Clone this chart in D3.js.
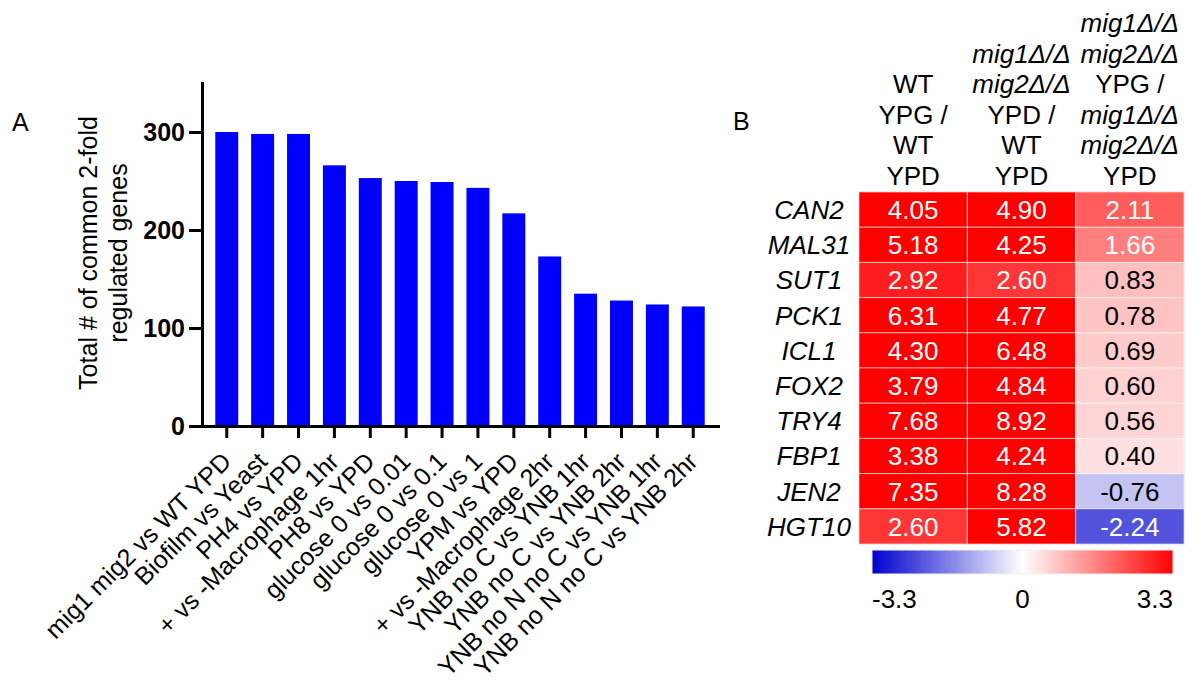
<!DOCTYPE html>
<html>
<head>
<meta charset="utf-8">
<script src="https://cdn.jsdelivr.net/npm/d3@7"></script>
<style>
  body { margin: 0; background: #fff; }
  svg { font-family: "Liberation Sans", Arial, sans-serif; }
</style>
</head>
<body>
<svg id="chart" width="1195" height="683"></svg>
<script>
// panel A data
var conditions = ["mig1 mig2 vs WT YPD", "Biofilm vs Yeast", "PH4 vs YPD", "+ vs -Macrophage 1hr",
  "PH8 vs YPD", "glucose 0 vs 0.01", "glucose 0 vs 0.1", "glucose 0 vs 1", "YPM vs YPD",
  "+ vs -Macrophage 2hr", "YNB no C vs YNB 1hr", "YNB no C vs YNB 2hr",
  "YNB no N no C vs YNB 1hr", "YNB no N no C vs YNB 2hr"];
var geneCounts = [300, 298, 298, 266, 253, 250, 249, 243, 217, 173, 135, 128, 124, 122];
var yTicks = [0, 100, 200, 300];

// panel B data
var genes = ["CAN2", "MAL31", "SUT1", "PCK1", "ICL1", "FOX2", "TRY4", "FBP1", "JEN2", "HGT10"];
var wtRatio = [4.05, 5.18, 2.92, 6.31, 4.30, 3.79, 7.68, 3.38, 7.35, 2.60];
var mutYpdRatio = [4.90, 4.25, 2.60, 4.77, 6.48, 4.84, 8.92, 4.24, 8.28, 5.82];
var mutYpgRatio = [2.11, 1.66, 0.83, 0.78, 0.69, 0.60, 0.56, 0.40, -0.76, -2.24];
var columnHeaders = [
  ["WT", "YPG /", "WT", "YPD"],
  ["mig1\u0394/\u0394", "mig2\u0394/\u0394", "YPD /", "WT", "YPD"],
  ["mig1\u0394/\u0394", "mig2\u0394/\u0394", "YPG /", "mig1\u0394/\u0394", "mig2\u0394/\u0394", "YPD"]
];
var colorbarTicks = [-3.3, 0, 3.3];

var svg = d3.select("#chart");

// ---------- panel A: bar chart ----------
var x = d3.scaleBand()
    .domain(conditions)
    .range([202, 718])
    .paddingInner(0.36)
    .paddingOuter(0.37);

var y = d3.scaleLinear()
    .domain([0, 350])
    .range([426, 83]);

svg.append("text")
    .attr("x", 12).attr("y", 131)
    .attr("font-size", 25)
    .text("A");

var gA = svg.append("g");

gA.selectAll("rect.bar")
    .data(geneCounts)
  .enter().append("rect")
    .attr("class", "bar")
    .attr("x", function(d, i) { return x(conditions[i]); })
    .attr("y", function(d) { return y(d); })
    .attr("width", x.bandwidth())
    .attr("height", function(d) { return y(0) - y(d); })
    .attr("fill", "#0000ff");

var yAxis = gA.append("g")
    .attr("transform", "translate(202,0)")
    .call(d3.axisLeft(y).tickValues(yTicks).tickSize(13).tickSizeOuter(0).tickPadding(4));
yAxis.select(".domain").attr("stroke-width", 3).attr("stroke-linecap", "square");
yAxis.selectAll(".tick line").attr("stroke-width", 3);
yAxis.selectAll(".tick text")
    .attr("font-size", 25)
    .attr("font-weight", "bold")
    .attr("fill", "#000");

var xAxis = gA.append("g")
    .attr("transform", "translate(0,426)")
    .call(d3.axisBottom(x).tickSize(12).tickSizeOuter(0));
xAxis.select(".domain").attr("stroke-width", 3).attr("stroke-linecap", "square");
xAxis.selectAll(".tick line").attr("stroke-width", 3);
xAxis.selectAll(".tick text")
    .attr("font-size", 25)
    .attr("fill", "#000")
    .attr("text-anchor", "end")
    .attr("x", 0).attr("y", 0).attr("dy", 0)
    .attr("transform", "translate(6,37) rotate(-45)");

var yLabel = gA.append("text")
    .attr("transform", "translate(97,253) rotate(-90)")
    .attr("text-anchor", "middle")
    .attr("font-size", 25);
yLabel.append("tspan").attr("x", 0).attr("dy", 0).text("Total # of common 2-fold");
yLabel.append("tspan").attr("x", 0).attr("dy", 30).text("regulated genes");

// ---------- panel B: heatmap ----------
var columns = [wtRatio, mutYpdRatio, mutYpgRatio];

var col = d3.scaleBand()
    .domain(d3.range(columns.length))
    .range([859, 1184]);

var row = d3.scaleBand()
    .domain(genes)
    .range([192, 544]);

var color = d3.scaleLinear()
    .domain([-3.3, 0, 3.3])
    .range(["#0000cd", "#ffffff", "#ff0000"])
    .interpolate(d3.interpolateRgb)
    .clamp(true);

svg.append("text")
    .attr("x", 733).attr("y", 130)
    .attr("font-size", 25)
    .text("B");

var gB = svg.append("g");

var headerLine = 30.6;
columnHeaders.forEach(function(lines, c) {
  var t = gB.append("text")
      .attr("text-anchor", "middle")
      .attr("font-size", 26);
  lines.forEach(function(s, k) {
    t.append("tspan")
        .attr("x", col(c) + col.bandwidth() / 2)
        .attr("y", 185 - (lines.length - 1 - k) * headerLine)
        .attr("font-style", s.indexOf("mig") === 0 ? "italic" : "normal")
        .text(s);
  });
});

gB.selectAll("text.gene")
    .data(genes)
  .enter().append("text")
    .attr("class", "gene")
    .attr("x", 809)
    .attr("y", function(d) { return row(d) + row.bandwidth() / 2; })
    .attr("dy", "0.36em")
    .attr("text-anchor", "middle")
    .attr("font-size", 26)
    .attr("font-style", "italic")
    .text(function(d) { return d; });

var cells = [];
columns.forEach(function(vals, c) {
  vals.forEach(function(v, r) { cells.push({ c: c, gene: genes[r], v: v }); });
});

gB.append("rect")
    .attr("x", col.range()[0] - 0.5).attr("y", row.range()[0] - 0.5)
    .attr("width", col.range()[1] - col.range()[0] + 1)
    .attr("height", row.range()[1] - row.range()[0] + 1)
    .attr("fill", "none")
    .attr("stroke", "#e6e6e6");

gB.selectAll("rect.cell")
    .data(cells)
  .enter().append("rect")
    .attr("class", "cell")
    .attr("x", function(d) { return col(d.c); })
    .attr("y", function(d) { return row(d.gene); })
    .attr("width", col.bandwidth())
    .attr("height", row.bandwidth())
    .attr("fill", function(d) { return color(d.v); })
    .attr("stroke", "rgba(255,255,255,0.55)")
    .attr("stroke-width", 1);

gB.selectAll("text.val")
    .data(cells)
  .enter().append("text")
    .attr("class", "val")
    .attr("x", function(d) { return col(d.c) + col.bandwidth() / 2; })
    .attr("y", function(d) { return row(d.gene) + row.bandwidth() / 2; })
    .attr("dy", "0.36em")
    .attr("text-anchor", "middle")
    .attr("font-size", 26)
    .attr("fill", function(d) { return Math.abs(d.v) > 1 ? "#fff" : "#000"; })
    .text(function(d) { return d.v.toFixed(2); });

// colour bar
var cb = d3.scaleLinear().domain([-3.3, 3.3]).range([872, 1173]);

var grad = svg.append("defs").append("linearGradient")
    .attr("id", "cbar")
    .attr("x1", "0%").attr("x2", "100%").attr("y1", "0%").attr("y2", "0%");
color.domain().forEach(function(v) {
  grad.append("stop")
      .attr("offset", ((v + 3.3) / 6.6 * 100) + "%")
      .attr("stop-color", color(v));
});

gB.append("rect")
    .attr("x", cb(-3.3)).attr("y", 550)
    .attr("width", cb(3.3) - cb(-3.3)).attr("height", 24)
    .attr("fill", "url(#cbar)")
    .attr("stroke", "#f0f0f0");

gB.selectAll("text.cbtick")
    .data(colorbarTicks)
  .enter().append("text")
    .attr("class", "cbtick")
    .attr("x", function(d) { return cb(d); })
    .attr("y", 608)
    .attr("font-size", 26)
    .attr("text-anchor", function(d, i) { return i === 0 ? "start" : (i === colorbarTicks.length - 1 ? "end" : "middle"); })
    .text(function(d) { return d; });
</script>
</body>
</html>
